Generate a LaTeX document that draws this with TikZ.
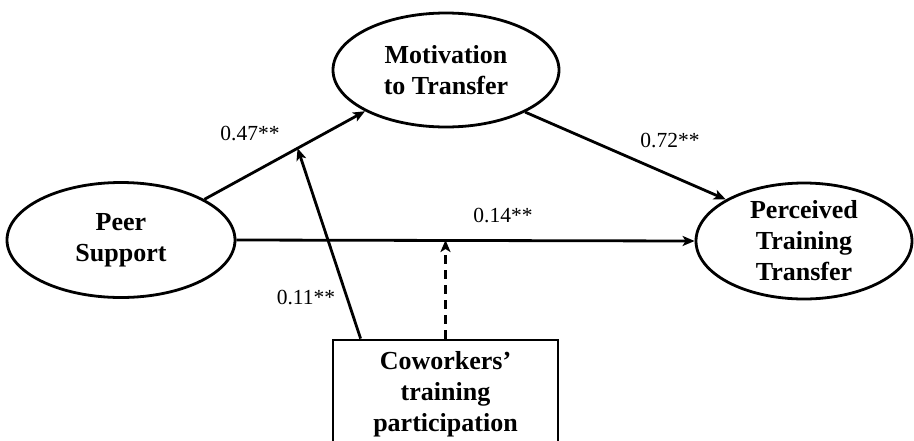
\documentclass[tikz,border=0pt]{standalone}
\usepackage{fontspec}
\setmainfont{Liberation Serif}
\usetikzlibrary{shapes.geometric,arrows.meta,calc}
\begin{document}
\begin{tikzpicture}[x=1pt,y=-1pt,
  latent/.style={ellipse,draw,line width=2.8pt,inner sep=0pt,align=center,
    font=\fontsize{26}{31}\selectfont\bfseries},
  obsbox/.style={rectangle,draw,line width=2.8pt,inner sep=0pt,align=center,
    font=\fontsize{26}{31}\selectfont\bfseries},
  coef/.style={font=\fontsize{21.5}{24}\selectfont},
  arr/.style={-{Stealth[length=12pt,width=10pt,inset=3pt]},line width=2.8pt}]
\useasboundingbox (0,0) rectangle (914,440);
\fill[white] (0,0) rectangle (914,440);
\clip (0,0) rectangle (914,440);
\node[latent,minimum width=226pt,minimum height=114pt] (mot) at (446,70) {Motivation\\to Transfer};
\node[latent,minimum width=228pt,minimum height=115pt] (peer) at (121,240) {Peer\\Support};
\node[latent,minimum width=216pt,minimum height=116pt] (ptt) at (804,241) {Perceived\\Training\\Transfer};
\node[obsbox,minimum width=225pt,minimum height=108pt] (box) at (445.5,394) {Coworkers’\\training\\participation};
\draw[arr] (peer.26.6) -- (mot.207.9);
\coordinate (mod) at ($(peer.26.6)!0.58!(mot.207.9)$);
\draw[arr] ($(box.north west)+(29,0)$) -- (mod);
\draw[arr] (peer.east) -- (ptt.west);
\coordinate (dtop) at (box.north |- peer.east);
\draw[arr,dash pattern=on 9pt off 6pt] (box.north) -- (dtop);
\draw[arr] (mot.-28.6) -- (ptt.152);
\node[coef] (l47) at (250,133) {0.47**};
\node[coef] (l72) at (670,140) {0.72**};
\node[coef] (l14) at (503,215) {0.14**};
\node[coef] (l11) at (306,297) {0.11**};
\end{tikzpicture}
\end{document}
